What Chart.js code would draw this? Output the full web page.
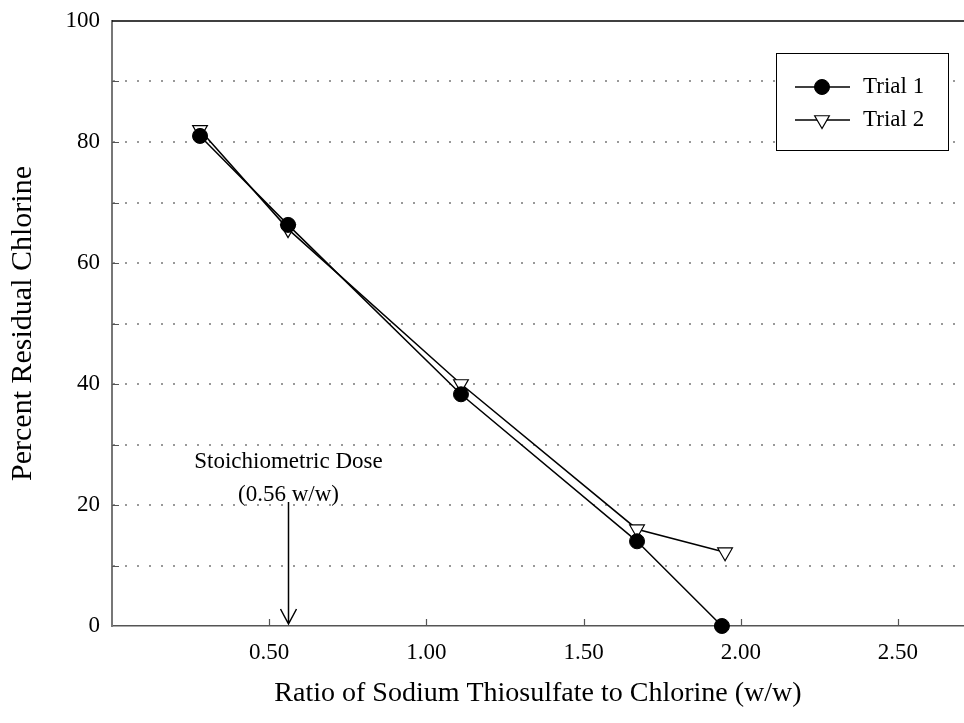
<!DOCTYPE html>
<html>
<head>
<meta charset="utf-8">
<script src="https://cdn.jsdelivr.net/npm/chart.js@4.4.0/dist/chart.umd.min.js"></script>
<style>
  html, body { margin: 0; padding: 0; background: #fff; }
  #wrap { width: 964px; height: 723px; }
</style>
</head>
<body>
<div id="wrap"><canvas id="chart" width="964" height="723"></canvas></div>
<script>
// ratio of thiosulfate to chlorine (w/w) and % residual chlorine
const ratio1 = [0.28, 0.56, 1.11, 1.67, 1.94];
const trial1 = [81, 66.3, 38.3, 14, 0];
const ratio2 = [0.28, 0.56, 1.11, 1.67, 1.95];
const trial2 = [82, 65.6, 40, 16, 12.2];

const xTicks = [0.5, 1.0, 1.5, 2.0, 2.5];
const yTicks = [0, 10, 20, 30, 40, 50, 60, 70, 80, 90, 100];
const yLabels = [0, 20, 40, 60, 80, 100];

const doseRatio = 0.56;
const doseTop = 20.5;
const doseText = ["Stoichiometric Dose", "(0.56 w/w)"];

const SERIF = '"Liberation Serif", "Times New Roman", serif';
const FONT = { family: SERIF, size: 23 };
const FONT_CSS = '23px ' + SERIF;

// top frame line + inward tick marks
const framePlugin = {
  id: 'frame',
  beforeDatasetsDraw(chart) {
    const { ctx, chartArea: a, scales: { x, y } } = chart;
    ctx.save();
    ctx.strokeStyle = '#000';
    ctx.lineWidth = 1.5;
    ctx.beginPath();
    ctx.moveTo(a.left, a.top);
    ctx.lineTo(chart.width, a.top);
    ctx.stroke();

    ctx.strokeStyle = '#555';
    ctx.lineWidth = 1.2;
    ctx.beginPath();
    yTicks.forEach(v => {
      if (v === 0 || v === 100) return;
      const py = Math.round(y.getPixelForValue(v)) + 0.5;
      ctx.moveTo(a.left, py);
      ctx.lineTo(a.left + 7, py);
    });
    xTicks.forEach(v => {
      const px = Math.round(x.getPixelForValue(v)) + 0.5;
      ctx.moveTo(px, a.bottom);
      ctx.lineTo(px, a.bottom - 7);
    });
    ctx.stroke();
    ctx.restore();
  }
};

// arrow marking the stoichiometric dose
const dosePlugin = {
  id: 'dose',
  afterDatasetsDraw(chart) {
    const { ctx, scales: { x, y } } = chart;
    const px = Math.round(x.getPixelForValue(doseRatio)) + 0.5;
    const top = y.getPixelForValue(doseTop);
    const tip = y.getPixelForValue(0) - 2;
    ctx.save();
    ctx.strokeStyle = '#000';
    ctx.lineWidth = 1.5;
    ctx.beginPath();
    ctx.moveTo(px, top);
    ctx.lineTo(px, tip);
    ctx.moveTo(px - 8, tip - 15);
    ctx.lineTo(px, tip);
    ctx.lineTo(px + 8, tip - 15);
    ctx.stroke();

    ctx.fillStyle = '#000';
    ctx.font = FONT_CSS;
    ctx.textAlign = 'center';
    ctx.textBaseline = 'middle';
    ctx.fillText(doseText[0], px, top - 40);
    ctx.fillText(doseText[1], px, top - 7);
    ctx.restore();
  }
};

// boxed legend with line + marker samples
const legendBox = {
  id: 'legendBox',
  afterDraw(chart) {
    const { ctx } = chart;
    const box = { l: 776.5, t: 53.5, r: 948.5, b: 150.5 };
    ctx.save();
    ctx.fillStyle = '#fff';
    ctx.fillRect(box.l, box.t, box.r - box.l, box.b - box.t);
    ctx.strokeStyle = '#000';
    ctx.lineWidth = 1;
    ctx.strokeRect(box.l, box.t, box.r - box.l, box.b - box.t);
    const rows = [87, 120];
    chart.data.datasets.forEach((ds, i) => {
      const cy = rows[i];
      ctx.strokeStyle = '#000';
      ctx.lineWidth = 1.5;
      ctx.beginPath();
      ctx.moveTo(795, cy);
      ctx.lineTo(850, cy);
      ctx.stroke();
      ctx.fillStyle = ds.pointBackgroundColor;
      ctx.strokeStyle = ds.pointBorderColor;
      ctx.lineWidth = ds.pointBorderWidth;
      Chart.helpers.drawPoint(ctx, {
        pointStyle: ds.pointStyle,
        radius: ds.pointRadius,
        rotation: ds.pointRotation || 0,
        borderWidth: ds.pointBorderWidth
      }, 822, cy);
      ctx.fillStyle = '#000';
      ctx.font = FONT_CSS;
      ctx.textAlign = 'left';
      ctx.textBaseline = 'middle';
      ctx.fillText(ds.label, 863, cy);
    });
    ctx.restore();
  }
};

const toPoints = (xs, ys) => xs.map((v, i) => ({ x: v, y: ys[i] }));

new Chart(document.getElementById('chart'), {
  type: 'line',
  data: {
    datasets: [
      {
        label: 'Trial 1',
        data: toPoints(ratio1, trial1),
        borderColor: '#000',
        borderWidth: 1.5,
        pointStyle: 'circle',
        pointRadius: 7.5,
        pointBackgroundColor: '#000',
        pointBorderColor: '#000',
        pointBorderWidth: 1,
        clip: false
      },
      {
        label: 'Trial 2',
        data: toPoints(ratio2, trial2),
        borderColor: '#000',
        borderWidth: 1.5,
        pointStyle: 'triangle',
        pointRotation: 180,
        pointRadius: 8.5,
        pointBackgroundColor: '#fff',
        pointBorderColor: '#000',
        pointBorderWidth: 1.2,
        clip: false
      }
    ]
  },
  options: {
    responsive: false,
    animation: false,
    events: [],
    layout: { autoPadding: false, padding: { top: 21, left: 0, right: 0, bottom: 0 } },
    plugins: { legend: { display: false }, tooltip: { enabled: false } },
    scales: {
      x: {
        type: 'linear',
        min: 0,
        max: 2.71,
        afterBuildTicks: s => { s.ticks = xTicks.map(v => ({ value: v })); },
        afterFit: s => { s.height = 97; s.paddingLeft = 0; s.paddingRight = 0; },
        ticks: {
          callback: v => v.toFixed(2),
          font: FONT,
          color: '#000',
          padding: 13,
          autoSkip: false,
          maxRotation: 0
        },
        grid: { drawOnChartArea: false, drawTicks: false },
        border: { color: '#555', width: 1.5 },
        title: {
          display: true,
          text: 'Ratio of Sodium Thiosulfate to Chlorine (w/w)',
          font: { family: SERIF, size: 28 },
          color: '#000',
          padding: { bottom: 13 }
        }
      },
      y: {
        min: 0,
        max: 100,
        afterBuildTicks: s => { s.ticks = yTicks.map(v => ({ value: v })); },
        afterFit: s => { s.width = 112; s.paddingTop = 0; s.paddingBottom = 0; },
        ticks: {
          callback: v => yLabels.includes(v) ? String(v) : '',
          font: FONT,
          color: '#000',
          padding: 12,
          autoSkip: false
        },
        grid: {
          drawTicks: false,
          lineWidth: 2,
          color: c => (c.tick && (c.tick.value === 0 || c.tick.value === 100)) ? 'rgba(0,0,0,0)' : '#999'
        },
        border: { color: '#777', width: 2, dash: [2, 10] },
        title: {
          display: true,
          text: 'Percent Residual Chlorine',
          font: { family: SERIF, size: 30 },
          color: '#000',
          padding: { top: 5 }
        }
      }
    }
  },
  plugins: [framePlugin, dosePlugin, legendBox]
});
</script>
</body>
</html>
